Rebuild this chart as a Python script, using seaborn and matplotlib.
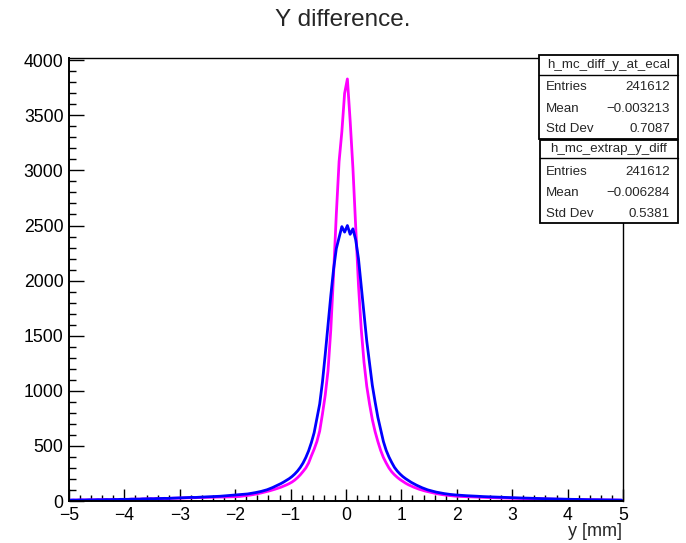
import numpy as np
import pandas as pd
import matplotlib
matplotlib.use("Agg")
import matplotlib.pyplot as plt
import seaborn as sns
from matplotlib.patches import Rectangle
from matplotlib.lines import Line2D
from matplotlib.ticker import MultipleLocator

# ---------------- data ----------------
x_min, x_max, bin_width = -5.0, 5.0, 0.05

# h_mc_extrap_y_diff (blue)
blue_left_tail = [8, 9, 8, 9, 10, 9, 10, 11, 10, 11, 12, 11, 12, 13, 12, 13, 14, 13, 15, 15,
                  16, 15, 17, 17, 18, 17, 19, 19, 20, 21, 20, 22, 22, 23, 24, 23, 25, 26, 27, 28,
                  29, 30, 30, 31, 33, 32, 34, 35, 36, 37, 38, 39, 41, 42, 43, 45, 46, 48, 50, 52]
blue_left_core = [2440, 2490, 2390, 2290, 2100, 1860, 1600, 1330, 1080, 880, 750, 620, 530, 455,
                  395, 345, 305, 272, 245, 222, 203, 188, 172, 158, 146, 134, 122, 112, 102, 95,
                  88, 82, 77, 72, 68, 64, 61, 58, 56, 54]  # from -0.025 outward
blue_right_core = [2500, 2420, 2470, 2370, 2200, 1950, 1700, 1450, 1250, 1050, 900, 760, 650, 540,
                   460, 400, 350, 305, 272, 245, 222, 203, 186, 170, 156, 143, 131, 120, 110, 101,
                   94, 87, 81, 76, 71, 67, 63, 60, 57, 55]  # from 0.025 outward
blue_right_tail = [53, 51, 50, 48, 47, 45, 44, 43, 41, 40, 39, 38, 37, 36, 35, 34, 33, 32, 31, 31,
                   30, 29, 28, 27, 27, 26, 25, 24, 24, 23, 22, 21, 21, 20, 19, 19, 18, 18, 17, 16,
                   16, 15, 15, 14, 14, 13, 13, 12, 12, 12, 11, 11, 10, 10, 10, 9, 9, 9, 8, 8]

# h_mc_diff_y_at_ecal (magenta)
mag_left_tail = [7, 8, 8, 9, 9, 9, 10, 10, 10, 11, 11, 11, 12, 12, 12, 13, 13, 13, 14, 14,
                 15, 15, 16, 16, 17, 17, 18, 18, 19, 20, 20, 21, 21, 22, 23, 23, 24, 25, 25, 26,
                 27, 27, 28, 29, 29, 30, 31, 31, 32, 33, 33, 34, 35, 35, 36, 36, 37, 37, 38, 38]
mag_left_core = [3700, 3350, 3080, 2600, 2050, 1550, 1180, 960, 790, 635, 540, 470, 410, 345,
                 300, 268, 238, 212, 190, 172, 158, 146, 135, 125, 116, 108, 100, 93, 86, 80,
                 74, 68, 63, 58, 54, 50, 47, 44, 41, 39]  # from -0.025 outward
mag_right_core = [3830, 3450, 3020, 2480, 1960, 1560, 1260, 1040, 880, 740, 630, 540, 460, 395,
                  345, 300, 265, 238, 215, 195, 178, 162, 148, 136, 125, 115, 106, 98, 91, 85,
                  79, 73, 68, 63, 59, 55, 52, 49, 46, 44]  # from 0.025 outward
mag_right_tail = [42, 41, 40, 39, 38, 37, 36, 35, 34, 33, 32, 32, 31, 30, 29, 29, 28, 27, 27, 26,
                  25, 25, 24, 23, 23, 22, 21, 21, 20, 20, 19, 18, 18, 17, 17, 16, 16, 15, 15, 14,
                  14, 13, 13, 13, 12, 12, 11, 11, 11, 10, 10, 10, 9, 9, 9, 8, 8, 8, 8, 7]

x_ticks = [-5, -4, -3, -2, -1, 0, 1, 2, 3, 4, 5]
y_ticks = [0, 500, 1000, 1500, 2000, 2500, 3000, 3500, 4000]

stats = [
    ("h_mc_diff_y_at_ecal", [("Entries", "241612"), ("Mean", "\u22120.003213"), ("Std Dev", "0.7087")]),
    ("h_mc_extrap_y_diff", [("Entries", "241612"), ("Mean", "\u22120.006284"), ("Std Dev", "0.5381")]),
]

# ---------------- build ----------------
n_bins = int(round((x_max - x_min) / bin_width))
centers = x_min + bin_width * (np.arange(n_bins) + 0.5)
blue_counts = np.array(blue_left_tail + blue_left_core[::-1] + blue_right_core + blue_right_tail, float)
mag_counts = np.array(mag_left_tail + mag_left_core[::-1] + mag_right_core + mag_right_tail, float)

df_mag = pd.DataFrame({"y": centers, "count": mag_counts})
df_blue = pd.DataFrame({"y": centers, "count": blue_counts})

sns.set_style("ticks")
plt.rcParams["font.family"] = ["Liberation Sans", "DejaVu Sans"]
plt.rcParams["axes.unicode_minus"] = True

W, H = 686, 543
fig = plt.figure(figsize=(W / 100, H / 100), dpi=100)
fig.patch.set_facecolor("white")


def fx(px):
    return px / W


def fy(py):
    return 1 - py / H


ax = fig.add_axes([fx(69), fy(501), fx(623) - fx(69), fy(58) - fy(501)])

sns.histplot(data=df_mag, x="y", weights="count", binwidth=bin_width, binrange=(x_min, x_max),
             element="poly", fill=False, color="#ff00ff", linewidth=2.0, ax=ax)
sns.histplot(data=df_blue, x="y", weights="count", binwidth=bin_width, binrange=(x_min, x_max),
             element="poly", fill=False, color="#0000ff", linewidth=2.0, ax=ax)

ax.set_xlim(x_min, x_max)
ax.set_ylim(0, 4020)
ax.set_xlabel("")
ax.set_ylabel("")
ax.set_xticks(x_ticks)
ax.set_yticks(y_ticks)
ax.xaxis.set_minor_locator(MultipleLocator(0.2))
ax.yaxis.set_minor_locator(MultipleLocator(100))
ax.tick_params(axis="both", which="both", direction="in", top=False, right=False,
               labelsize=12.7, colors="black", width=1.0)
ax.tick_params(axis="x", which="major", length=8.6, pad=4)
ax.tick_params(axis="x", which="minor", length=4.6)
ax.tick_params(axis="y", which="major", length=10.8, pad=4)
ax.tick_params(axis="y", which="minor", length=5.0)
for s in ax.spines.values():
    s.set_visible(True)
    s.set_linewidth(1.0)
    s.set_color("black")
ax.spines["left"].set_linewidth(1.4)
ax.spines["bottom"].set_linewidth(1.4)

fig.text(0.5, fy(20), "Y difference.", ha="center", va="center", fontsize=17.5)
fig.text(fx(622), fy(532), "y [mm]", ha="right", va="center", fontsize=13)

# ---------------- stats boxes ----------------
boxes = [(539, 55, 139, 75, [87, 109, 129]), (540, 140, 223, 158, [172, 193, 214])]
for (name, rows), (left, top, bottom, hline, row_y) in zip(stats, boxes):
    right = 678
    rect = Rectangle((fx(left), fy(bottom)), fx(right) - fx(left), fy(top) - fy(bottom),
                     transform=fig.transFigure, facecolor="white", edgecolor="black",
                     linewidth=1.3, zorder=5)
    fig.add_artist(rect)
    fig.add_artist(Line2D([fx(left), fx(right)], [fy(hline), fy(hline)], transform=fig.transFigure,
                          color="black", linewidth=1.0, zorder=6))
    fig.text(fx((left + right) / 2), fy((top + hline) / 2), name, ha="center", va="center",
             fontsize=9.6, zorder=7)
    for (lab, val), yy in zip(rows, row_y):
        fig.text(fx(546), fy(yy), lab, ha="left", va="center", fontsize=9.6, zorder=7)
        fig.text(fx(670), fy(yy), val, ha="right", va="center", fontsize=9.6, zorder=7)

fig.savefig("out.png", dpi=100, facecolor="white")
